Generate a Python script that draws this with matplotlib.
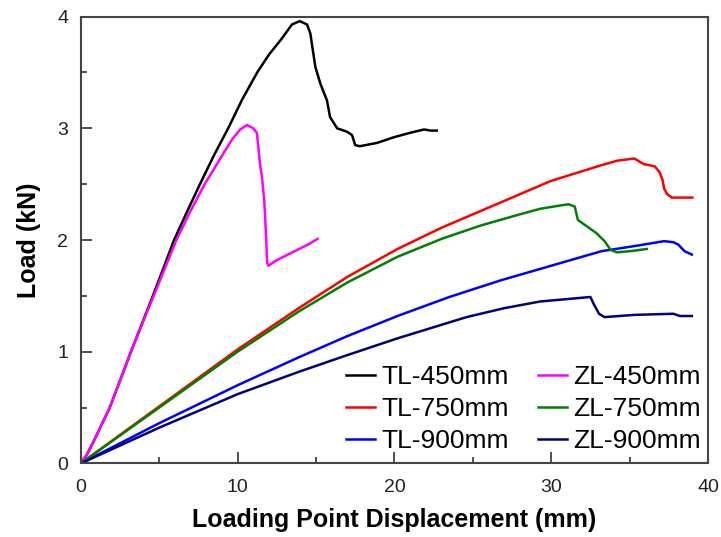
import matplotlib
matplotlib.use("Agg")
import matplotlib.pyplot as plt
from matplotlib.ticker import MultipleLocator

plt.rcParams['font.family'] = ['Liberation Sans', 'DejaVu Sans']

# displacement (mm) / load (kN)
tl450_d = [0, 0.4, 0.9, 1.85, 2.5, 3.2, 4.6, 5.95, 6.8, 7.6, 8.5, 9.4, 10.3, 11.25, 12.0, 12.8, 13.47,
           13.96, 14.43, 14.64, 14.96, 15.28, 15.7, 15.9, 16.35, 16.98, 17.3, 17.5, 17.8, 18.9, 19.96,
           21.0, 21.9, 22.3, 22.7]
tl450_l = [0, 0.08, 0.22, 0.5, 0.74, 1.0, 1.5, 2.0, 2.26, 2.5, 2.76, 3.0, 3.26, 3.5, 3.66, 3.8, 3.93,
           3.96, 3.93, 3.85, 3.55, 3.40, 3.25, 3.10, 3.00, 2.97, 2.94, 2.85, 2.84, 2.87, 2.92,
           2.96, 2.99, 2.98, 2.98]

zl450_d = [0, 0.4, 0.9, 1.85, 2.5, 3.2, 4.65, 6.1, 7.0, 7.9, 8.6, 9.2, 9.7, 10.17, 10.6, 11.0, 11.23,
           11.45, 11.55, 11.7, 11.83, 11.88, 11.97, 12.5, 13.5, 14.5, 15.1]
zl450_l = [0, 0.08, 0.22, 0.5, 0.74, 1.0, 1.5, 2.0, 2.26, 2.5, 2.66, 2.8, 2.91, 2.99, 3.03, 3.0, 2.96,
           2.66, 2.57, 2.36, 2.0, 1.8, 1.77, 1.82, 1.89, 1.96, 2.01]

tl750_d = [0, 5, 10, 13.9, 17, 20.2, 23, 25.5, 28, 30, 33.2, 34.2, 35.3, 35.9, 36.6, 36.9, 37.1, 37.2,
           37.4, 37.7, 38.3, 39.0]
tl750_l = [0, 0.51, 1.02, 1.39, 1.67, 1.92, 2.11, 2.26, 2.41, 2.53, 2.67, 2.71, 2.73, 2.68, 2.66, 2.61,
           2.54, 2.46, 2.41, 2.38, 2.38, 2.38]

zl750_d = [0, 5, 10, 13.9, 17, 20.2, 23, 25.5, 28.0, 29.3, 30.6, 31.1, 31.5, 31.7, 32.3, 32.9, 33.4,
           33.8, 34.2, 35.0, 36.1]
zl750_l = [0, 0.50, 1.0, 1.36, 1.62, 1.85, 2.01, 2.13, 2.23, 2.28, 2.31, 2.32, 2.30, 2.18, 2.12, 2.06,
           1.99, 1.91, 1.89, 1.90, 1.92]

tl900_d = [0, 5, 10, 13.9, 17, 20.2, 23.5, 26.8, 30, 33.2, 35.5, 37.2, 37.8, 38.1, 38.5, 38.97]
tl900_l = [0, 0.36, 0.70, 0.95, 1.14, 1.32, 1.49, 1.64, 1.77, 1.90, 1.95, 1.99, 1.98, 1.96, 1.90, 1.87]

zl900_d = [0, 5, 10, 13.9, 17, 20.2, 24.6, 27, 29.3, 32.5, 32.7, 33.05, 33.4, 35.3, 37.8, 38.2, 38.97]
zl900_l = [0, 0.32, 0.62, 0.82, 0.97, 1.12, 1.31, 1.39, 1.45, 1.49, 1.43, 1.34, 1.31, 1.33, 1.34, 1.32,
           1.32]

fig = plt.figure(figsize=(7.21, 5.37), dpi=100)
ax = fig.add_axes([0.112, 0.137, 0.870, 0.832])

lw = 1.8
ax.plot(tl450_d, tl450_l, color='black', lw=lw, label='TL-450mm')
ax.plot(tl750_d, tl750_l, color='#ff0000', lw=lw, label='TL-750mm')
ax.plot(tl900_d, tl900_l, color='#0000ff', lw=lw, label='TL-900mm')
ax.plot(zl450_d, zl450_l, color='#ff00ff', lw=lw, label='ZL-450mm')
ax.plot(zl750_d, zl750_l, color='#008000', lw=lw, label='ZL-750mm')
ax.plot(zl900_d, zl900_l, color='#000080', lw=lw, label='ZL-900mm')

ax.set_xlim(0, 40)
ax.set_ylim(0, 4)
ax.xaxis.set_major_locator(MultipleLocator(10))
ax.xaxis.set_minor_locator(MultipleLocator(5))
ax.yaxis.set_major_locator(MultipleLocator(1))
ax.yaxis.set_minor_locator(MultipleLocator(0.5))
ax.tick_params(which='both', direction='in', top=False, right=False, width=1.2, colors='#333333',
               labelcolor='#222222', labelsize=14)
ax.tick_params(axis='x', which='major', length=8, pad=11)
ax.tick_params(axis='y', which='major', length=8, pad=9)
ax.tick_params(which='minor', length=4)
for s in ax.spines.values():
    s.set_linewidth(1.5)
    s.set_color('#444444')

ax.set_xlabel('Loading Point Displacement (mm)', fontsize=18, fontweight='bold', labelpad=9)
ax.set_ylabel('Load (kN)', fontsize=18, fontweight='bold', labelpad=12)

ax.legend(ncol=2, loc='lower right', bbox_to_anchor=(1.006, -0.001), frameon=False, fontsize=19,
          handlelength=1.1, handletextpad=0.25, columnspacing=1.1, labelspacing=0.3,
          borderaxespad=0.0)

fig.savefig('out.png', dpi=100)
